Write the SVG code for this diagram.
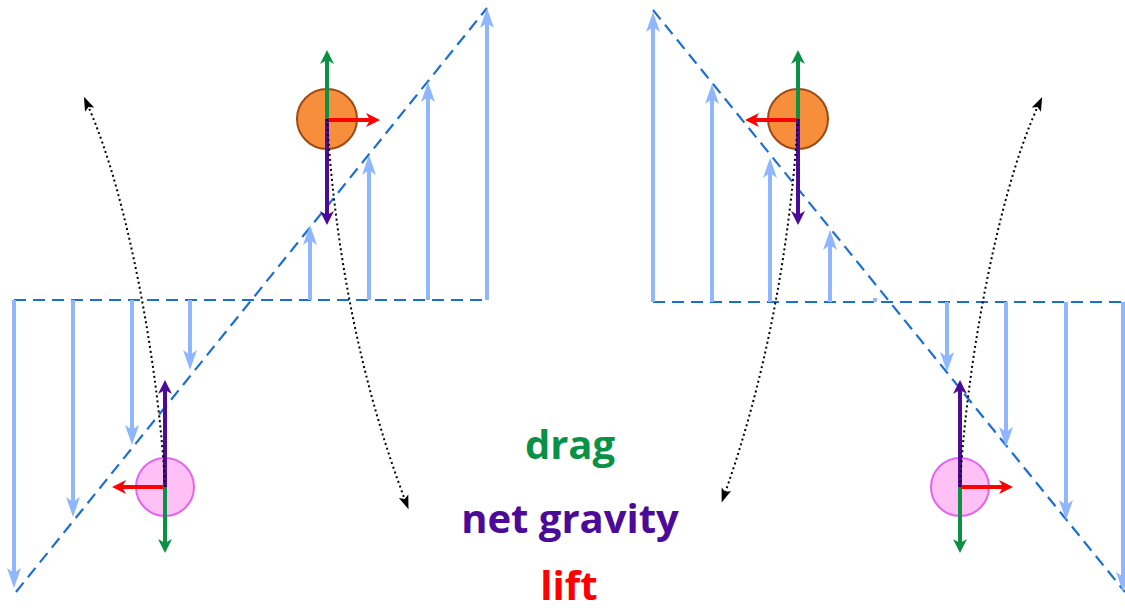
<svg xmlns="http://www.w3.org/2000/svg" width="1125" height="611" viewBox="0 0 1125 611">
<style>
.dash{stroke:#1b6fd2;stroke-width:2.2;stroke-dasharray:12 7;fill:none}
.blue{stroke:#8fb6ff;stroke-width:4;fill:none;marker-end:url(#mB)}
.g{stroke:#0a9146;stroke-width:4;fill:none;marker-end:url(#mG)}
.r{stroke:#ff0000;stroke-width:4;fill:none;marker-end:url(#mR)}
.p{stroke:#4b0a98;stroke-width:4;fill:none;marker-end:url(#mP)}
.dot{stroke:#000;stroke-width:2;stroke-dasharray:2 3;fill:none;marker-end:url(#mK)}
.orange{fill:#f78e3c;stroke:#9e4a14;stroke-width:2}
.pink{fill:#ffc0f6;stroke:#e066f0;stroke-width:2}
.lbl{font-family:"Open Sans","Liberation Sans",sans-serif;font-weight:700;font-size:40px;text-anchor:middle}
</style>
<defs>
<marker id="mB" markerUnits="userSpaceOnUse" markerWidth="22" markerHeight="16" refX="10" refY="7" orient="auto" overflow="visible"><path d="M0,0 L20,7 L0,14 L5,7 z" fill="#8fb6ff"/></marker>
<marker id="mG" markerUnits="userSpaceOnUse" markerWidth="16" markerHeight="16" refX="7" refY="7" orient="auto" overflow="visible"><path d="M0,0 L14,7 L0,14 L4,7 z" fill="#0a9146"/></marker>
<marker id="mR" markerUnits="userSpaceOnUse" markerWidth="16" markerHeight="16" refX="7" refY="7" orient="auto" overflow="visible"><path d="M0,0 L14,7 L0,14 L4,7 z" fill="#ff0000"/></marker>
<marker id="mP" markerUnits="userSpaceOnUse" markerWidth="16" markerHeight="16" refX="7" refY="7" orient="auto" overflow="visible"><path d="M0,0 L14,7 L0,14 L4,7 z" fill="#4b0a98"/></marker>
<marker id="mK" markerUnits="userSpaceOnUse" markerWidth="16" markerHeight="12" refX="4" refY="5" orient="auto" overflow="visible"><path d="M0,0 L14,5 L0,10 L3,5 z" fill="#000"/></marker>
</defs>

<g id="left-panel">
<line class="dash" x1="14" y1="300" x2="487" y2="300"/>
<line class="dash" x1="16" y1="592" x2="487" y2="8"/>
<line class="blue" x1="14" y1="300" x2="14" y2="578"/>
<line class="blue" x1="73" y1="300" x2="73" y2="507"/>
<line class="blue" x1="132" y1="300" x2="132" y2="435"/>
<line class="blue" x1="190" y1="300" x2="190" y2="360"/>
<line class="blue" x1="310" y1="300" x2="310" y2="235"/>
<line class="blue" x1="369" y1="300" x2="369" y2="165"/>
<line class="blue" x1="428" y1="300" x2="428" y2="92"/>
<line class="blue" x1="487" y1="300" x2="487" y2="18"/>
</g>

<g id="right-panel">
<line class="dash" x1="653" y1="302" x2="1125" y2="302"/>
<line class="dash" x1="653" y1="10" x2="1125" y2="592"/>
<line class="blue" x1="653" y1="302" x2="653" y2="22"/>
<line class="blue" x1="712" y1="302" x2="712" y2="94"/>
<line class="blue" x1="770" y1="302" x2="770" y2="168"/>
<line class="blue" x1="830" y1="302" x2="830" y2="240"/>
<rect x="873" y="298" width="4" height="4" fill="#8fb6ff"/>
<line class="blue" x1="947" y1="302" x2="947" y2="362"/>
<line class="blue" x1="1006" y1="302" x2="1006" y2="437"/>
<line class="blue" x1="1066" y1="302" x2="1066" y2="510"/>
<line class="blue" x1="1123" y1="302" x2="1123" y2="582"/>
</g>

<g id="ball-left-top">
<circle class="orange" cx="327" cy="119" r="30"/>
<line class="g" x1="327" y1="119" x2="327" y2="57"/>
<line class="r" x1="327" y1="120" x2="373" y2="120"/>
<line class="p" x1="327" y1="119" x2="327" y2="218"/>
</g>

<g id="ball-left-bottom">
<circle class="pink" cx="165" cy="487" r="29"/>
<line class="p" x1="165" y1="487" x2="165" y2="387"/>
<line class="r" x1="165" y1="487" x2="119" y2="487"/>
<line class="g" x1="165" y1="487" x2="165" y2="546"/>
</g>

<g id="ball-right-top">
<circle class="orange" cx="798" cy="119" r="30"/>
<line class="g" x1="798" y1="119" x2="798" y2="57"/>
<line class="r" x1="798" y1="120" x2="752" y2="120"/>
<line class="p" x1="798" y1="119" x2="798" y2="218"/>
</g>

<g id="ball-right-bottom">
<circle class="pink" cx="960" cy="487" r="29"/>
<line class="p" x1="960" y1="487" x2="960" y2="387"/>
<line class="r" x1="960" y1="487" x2="1006" y2="487"/>
<line class="g" x1="960" y1="487" x2="960" y2="546"/>
</g>

<g id="connectors">
<path class="dot" d="M165,487 C160,380 130,200 88,106"/>
<path class="dot" d="M327,119 C335,250 360,380 405,500"/>
<path class="dot" d="M798,119 C790,250 765,380 725,493"/>
<path class="dot" d="M960,487 C965,380 995,200 1038,106"/>
</g>

<g id="labels">
<text class="lbl" x="570" y="459" fill="#0a9146">drag</text>
<text class="lbl" x="570" y="533" fill="#4b0a98">net gravity</text>
<text class="lbl" x="569" y="600" fill="#ff0000">lift</text>
</g>
</svg>
